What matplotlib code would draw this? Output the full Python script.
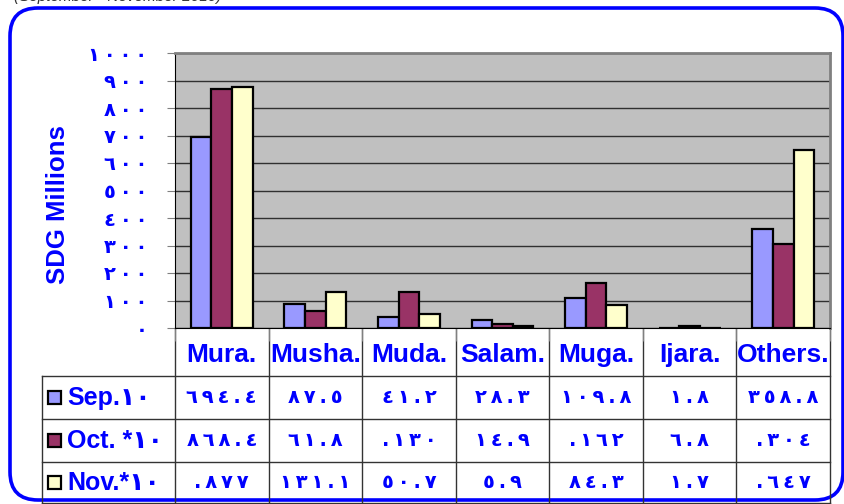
import matplotlib
matplotlib.use("Agg")
import matplotlib.pyplot as plt
from matplotlib.patches import FancyBboxPatch, Rectangle
import numpy as np

plt.rcParams['font.family'] = ['Liberation Sans', 'DejaVu Sans']

categories = ["Mura.", "Musha.", "Muda.", "Salam.", "Muga.", "Ijara.", "Others."]
series_names = ["Sep.١٠", "Oct. *١٠", "Nov.*١٠"]
sep_vals = [694.4, 87.5, 41.2, 28.3, 109.8, 1.8, 358.8]
oct_vals = [868.4, 61.8, 130, 14.9, 162, 6.8, 304]
nov_vals = [877, 131.1, 50.7, 5.9, 84.3, 1.7, 647]
colors = ["#9999ff", "#993366", "#ffffcc"]
yticks = [0, 100, 200, 300, 400, 500, 600, 700, 800, 900, 1000]

BLUE = "#0000ff"
AR = str.maketrans("0123456789", "٠١٢٣٤٥٦٧٨٩")


def ar_num(v):
    s = f"{v:g}"
    if "." not in s:
        s = "." + s  # integers are shown with a leading dot in the source
    return "\u2009".join(s.translate(AR))


W, H = 845, 504
fig = plt.figure(figsize=(W / 100, H / 100), dpi=100)

# background canvas in pixel coords
bg = fig.add_axes([0, 0, 1, 1])
bg.set_xlim(0, W)
bg.set_ylim(H, 0)
bg.axis("off")

bg.add_patch(FancyBboxPatch((10, 8), 833, 492,
                            boxstyle="round,pad=0,rounding_size=28",
                            fc="white", ec=BLUE, lw=2.6))
bg.text(14, -3, "(September - November 2010)", style="italic", fontsize=11,
        color="#333333", va="center", ha="left")

# plot area
px_l, px_r, px_t, px_b = 175, 830, 53, 328
ax = fig.add_axes([px_l / W, (H - px_b) / H, (px_r - px_l) / W, (px_b - px_t) / H])
ax.set_facecolor("#c0c0c0")

x = np.arange(len(categories))
bw = 0.22
for i, (vals, c) in enumerate(zip([sep_vals, oct_vals, nov_vals], colors)):
    ax.bar(x + (i - 1) * bw, vals, bw, color=c, edgecolor="black", lw=1.6, zorder=3)

ax.set_xlim(-0.5, len(categories) - 0.5)
ax.set_ylim(0, 1000)
ax.set_yticks(yticks)
ax.set_yticklabels(["\u2009".join(str(t).translate(AR)) for t in yticks],
                   color=BLUE, fontweight="bold", fontsize=14, family="DejaVu Sans")
ax.yaxis.grid(True, color="#303030", lw=1)
ax.set_axisbelow(True)
ax.tick_params(axis="y", length=6, color="#808080", pad=14)
ax.set_xticks(np.arange(-0.5, len(categories), 1))
ax.set_xticklabels([])
ax.tick_params(axis="x", length=9, color="#808080", direction="out")
for s in ["top", "right"]:
    ax.spines[s].set_color("#808080")
    ax.spines[s].set_linewidth(2)
ax.spines["left"].set_color("black")
ax.spines["bottom"].set_color("black")
ax.set_ylabel("SDG Millions", color=BLUE, fontweight="bold", fontsize=18.5)
ax.yaxis.set_label_coords(-0.16, 0.45)

# data table below
col_w = (px_r - px_l) / len(categories)
row_y = [328, 376, 419, 462, 504]
lc = "#333333"
for j in range(len(categories) + 1):
    xx = px_l + j * col_w
    bg.plot([xx, xx], [row_y[0], row_y[-1]], color=lc, lw=1)
bg.plot([42, 42], [row_y[1], row_y[-1]], color=lc, lw=1)
for yy in row_y[1:-1]:
    bg.plot([42, px_r], [yy, yy], color=lc, lw=1)
bg.plot([42, px_r], [row_y[-1] - 1, row_y[-1] - 1], color=lc, lw=1)

for j, cat in enumerate(categories):
    bg.text(px_l + (j + 0.5) * col_w, (row_y[0] + row_y[1]) / 2 + 3, cat,
            ha="center", va="center", color=BLUE, fontsize=19, fontweight="bold")

for i, (name, vals, c) in enumerate(zip(series_names, [sep_vals, oct_vals, nov_vals], colors)):
    yc = (row_y[i + 1] + row_y[i + 2]) / 2
    bg.add_patch(Rectangle((48, yc - 7), 13, 13, fc=c, ec="black", lw=1.6))
    bg.text(67, yc, name, ha="left", va="center", color=BLUE, fontsize=18,
            fontweight="bold")
    for j, v in enumerate(vals):
        bg.text(px_l + (j + 0.5) * col_w, yc, ar_num(v), ha="center", va="center",
                color=BLUE, fontsize=14, fontweight="bold", family="DejaVu Sans")

fig.savefig("out.png", dpi=100)
